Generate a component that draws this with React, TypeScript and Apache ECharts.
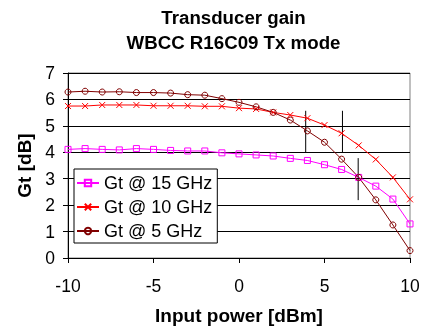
import React, { useEffect, useRef } from "react";
import * as echarts from "echarts";

const inputPower = [-10, -9, -8, -7, -6, -5, -4, -3, -2, -1, 0, 1, 2, 3, 4, 5, 6, 7, 8, 9, 10];
const gt15 = [4.11, 4.14, 4.11, 4.09, 4.14, 4.11, 4.07, 4.05, 4.05, 3.98, 3.94, 3.9, 3.86, 3.77, 3.69, 3.53, 3.35, 3.05, 2.72, 2.23, 1.29];
const gt10 = [5.75, 5.75, 5.79, 5.79, 5.79, 5.76, 5.76, 5.76, 5.74, 5.74, 5.67, 5.64, 5.51, 5.41, 5.29, 5.03, 4.72, 4.26, 3.73, 3.05, 2.22];
const gt5 = [6.28, 6.31, 6.28, 6.29, 6.26, 6.26, 6.24, 6.18, 6.16, 6.03, 5.89, 5.72, 5.51, 5.22, 4.81, 4.38, 3.74, 3.05, 2.2, 1.25, 0.28];
const seriesNames = ["Gt @ 15 GHz", "Gt @ 10 GHz", "Gt @ 5 GHz"];
const compressionX = [3.9, 6.05, 6.97];
const compressionLow = [4.0, 4.0, 2.19];
const compressionHigh = [5.57, 5.57, 3.78];

const FONT = 'Arial, "Liberation Sans", sans-serif';

export default function App() {
  const ref = useRef<HTMLDivElement>(null);
  useEffect(() => {
    if (!ref.current) return;
    const chart = echarts.init(ref.current, null, { renderer: "svg" });
    const pair = (ys: number[]) => inputPower.map((x, i) => [x, ys[i]]);
    const mk = (name: string, ys: number[], color: string, symbol: string) => ({
      name,
      type: "line",
      data: pair(ys),
      symbol,
      symbolSize: 6,
      showAllSymbol: true,
      lineStyle: { color, width: 1 },
      itemStyle: { color: "rgba(0,0,0,0)", borderColor: color, borderWidth: 1 },
      emphasis: { disabled: true },
    });
    const vlines = compressionX.map((x, i) => ({
      name: "c" + i,
      type: "line",
      data: [
        [x, compressionLow[i]],
        [x, compressionHigh[i]],
      ],
      symbol: "none",
      lineStyle: { color: "#000", width: 1 },
      silent: true,
      z: 1,
    }));
    chart.setOption({
      animation: false,
      textStyle: { fontFamily: FONT },
      title: {
        text: "Transducer gain\nWBCC R16C09 Tx mode",
        left: 233.5,
        top: 5,
        padding: 0,
        textAlign: "center",
        textStyle: { fontFamily: FONT, fontSize: 18.7, fontWeight: "bold", color: "#000", lineHeight: 25 },
      },
      grid: {
        left: 68,
        right: 12,
        top: 73,
        bottom: 70,
        show: true,
        borderColor: "#808080",
        borderWidth: 1,
        backgroundColor: "#fff",
        containLabel: false,
        outerBoundsMode: "none",
      },
      legend: {
        data: seriesNames,
        orient: "vertical",
        left: 74,
        top: 169,
        backgroundColor: "#fff",
        borderColor: "#000",
        borderWidth: 1,
        borderRadius: 0,
        padding: [5, 5, 3, 2],
        itemGap: 6,
        itemWidth: 22,
        itemHeight: 8,
        textStyle: { fontFamily: FONT, fontSize: 18, color: "#000", lineHeight: 18 },
      },
      xAxis: {
        type: "value",
        min: -10,
        max: 10,
        interval: 5,
        name: "Input power [dBm]",
        nameLocation: "middle",
        nameGap: 48,
        nameTextStyle: { fontFamily: FONT, fontSize: 19, fontWeight: "bold", color: "#000" },
        axisLine: { show: true, onZero: false, lineStyle: { color: "#000", width: 1 } },
        axisTick: { show: true, inside: false, length: 5, lineStyle: { color: "#000" } },
        axisLabel: { fontFamily: FONT, fontSize: 17.5, color: "#000", margin: 19 },
        splitLine: { show: false },
      },
      yAxis: {
        type: "value",
        min: 0,
        max: 7,
        interval: 1,
        name: "Gt [dB]",
        nameLocation: "middle",
        nameGap: 31,
        nameTextStyle: { fontFamily: FONT, fontSize: 19, fontWeight: "bold", color: "#000" },
        axisLine: { show: true, onZero: false, lineStyle: { color: "#000", width: 1 } },
        axisTick: { show: true, inside: false, length: 5, lineStyle: { color: "#000" } },
        axisLabel: { fontFamily: FONT, fontSize: 17.5, color: "#000", margin: 13 },
        splitLine: { show: true, lineStyle: { color: "#000", width: 1 } },
      },
      series: [
        mk(seriesNames[0], gt15, "#FF00FF", "rect"),
        mk(seriesNames[1], gt10, "#FF0000", "path://M0,0L10,10M10,0L0,10"),
        mk(seriesNames[2], gt5, "#800000", "circle"),
        ...vlines,
      ],
    });
    return () => chart.dispose();
  }, []);
  return <div ref={ref} style={{ position: "fixed", left: 0, top: 0, width: 422, height: 328 }} />;
}
